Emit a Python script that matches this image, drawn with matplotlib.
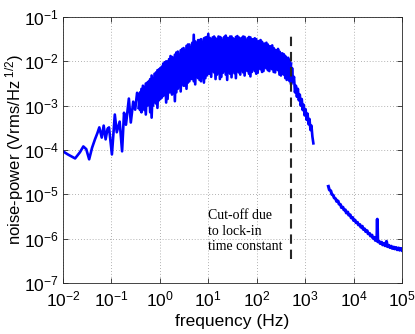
import numpy as np
import matplotlib
matplotlib.use("Agg")
import matplotlib.pyplot as plt

plt.rcParams['font.family'] = ['Liberation Sans', 'DejaVu Sans']
plt.rcParams['mathtext.fontset'] = 'custom'
plt.rcParams['mathtext.rm'] = 'Liberation Sans'
plt.rcParams['mathtext.it'] = 'Liberation Sans:italic'
plt.rcParams['mathtext.default'] = 'regular'

# ---- data (log10 frequency, log10 noise-power) ----
low_lf = [-2.00, -1.90, -1.75, -1.65, -1.58, -1.52, -1.46, -1.40, -1.34, -1.29,
          -1.25, -1.20, -1.16, -1.12, -1.08, -1.05, -0.99, -0.93, -0.89, -0.83,
          -0.78, -0.74, -0.70, -0.64, -0.60, -0.55, -0.51, -0.47]
low_lv = [-4.03, -4.10, -4.19, -4.05, -3.92, -3.98, -4.21, -3.95, -3.76, -3.62,
          -3.49, -3.72, -3.45, -3.76, -3.52, -3.49, -4.10, -3.20, -3.60, -3.36,
          -4.03, -3.16, -3.43, -2.84, -3.38, -2.91, -3.09, -2.71]

band_lf = [-0.44, -0.41, -0.38, -0.35, -0.32, -0.29, -0.26, -0.23, -0.20, -0.17,
           -0.14, -0.11, -0.08, -0.05, -0.02, 0.01, 0.04, 0.07, 0.10, 0.13,
           0.16, 0.19, 0.22, 0.25, 0.28, 0.31, 0.34, 0.37, 0.40, 0.43,
           0.46, 0.49, 0.52, 0.55, 0.58, 0.61, 0.64, 0.67, 0.70, 0.73,
           0.76, 0.79, 0.82, 0.85, 0.88, 0.91, 0.94, 0.97, 1.00, 1.03,
           1.06, 1.09, 1.12, 1.15, 1.18, 1.21, 1.24, 1.27, 1.30, 1.33,
           1.36, 1.39, 1.42, 1.45, 1.48, 1.51, 1.54, 1.57, 1.60, 1.63,
           1.66, 1.69, 1.72, 1.75, 1.78, 1.81, 1.84, 1.87, 1.90, 1.93,
           1.96, 1.99, 2.02, 2.05, 2.08, 2.11, 2.14, 2.17, 2.20, 2.23,
           2.26, 2.29, 2.32, 2.35, 2.38, 2.41, 2.44, 2.47, 2.50, 2.53,
           2.56, 2.59, 2.62, 2.65, 2.68, 2.71]
band_lv = [-2.80, -3.10, -2.62, -3.02, -2.58, -3.20, -2.48, -2.95, -2.40, -3.27,
           -2.38, -2.92, -2.25, -3.05, -2.18, -2.85, -2.12, -2.78, -2.02, -2.93,
           -2.00, -2.70, -1.88, -2.75, -1.92, -2.90, -1.80, -2.62, -1.85, -2.68,
           -1.72, -2.55, -1.75, -2.62, -1.62, -2.45, -1.68, -2.40, -1.40, -2.52,
           -1.58, -2.38, -1.52, -2.45, -1.56, -2.48, -1.46, -2.32, -1.38, -2.28,
           -1.50, -2.22, -1.44, -2.40, -1.50, -2.25, -1.45, -2.35, -1.52, -2.22,
           -1.42, -2.42, -1.48, -2.28, -1.44, -2.22, -1.50, -2.38, -1.43, -2.25,
           -1.49, -2.20, -1.44, -2.32, -1.52, -2.22, -1.45, -2.34, -1.50, -2.18,
           -1.48, -2.28, -1.55, -2.16, -1.52, -2.24, -1.60, -2.14, -1.58, -2.20,
           -1.66, -2.16, -1.64, -2.24, -1.74, -2.18, -1.72, -2.30, -1.82, -2.28,
           -1.84, -2.38, -1.92, -2.40, -1.96, -2.52]
# second pass of the same noisy band (opposite phase of the fluctuation)
band2_lv = [-3.05, -2.70, -3.15, -2.55, -3.10, -2.50, -3.00, -2.45, -3.15, -2.32,
            -3.00, -2.28, -2.95, -2.20, -2.88, -2.15, -2.82, -2.05, -2.75, -2.00,
            -2.85, -1.95, -2.70, -1.90, -2.62, -1.85, -2.70, -1.78, -2.58, -1.75,
            -2.50, -1.70, -2.55, -1.65, -2.48, -1.62, -2.40, -1.58, -2.45, -1.55,
            -2.35, -1.52, -2.42, -1.50, -2.30, -1.48, -2.38, -1.45, -2.28, -1.47,
            -2.35, -1.46, -2.25, -1.48, -2.30, -1.44, -2.40, -1.47, -2.26, -1.45,
            -2.30, -1.47, -2.24, -1.44, -2.36, -1.48, -2.27, -1.45, -2.22, -1.46,
            -2.30, -1.47, -2.25, -1.45, -2.20, -1.48, -2.28, -1.46, -2.24, -1.50,
            -2.22, -1.50, -2.26, -1.54, -2.18, -1.56, -2.22, -1.60, -2.16, -1.62,
            -2.22, -1.66, -2.18, -1.70, -2.25, -1.75, -2.20, -1.78, -2.32, -1.82,
            -2.30, -1.88, -2.42, -1.92, -2.45, -2.05]

roll_lf = [2.73, 2.75, 2.77, 2.79, 2.81, 2.83, 2.85, 2.87, 2.89, 2.91,
           2.93, 2.95, 2.97, 2.99, 3.01, 3.03, 3.05, 3.07, 3.09, 3.11,
           3.13, 3.15, 3.17]
roll_lv = [-2.15, -2.45, -2.35, -2.70, -2.55, -2.80, -2.62, -2.88, -2.75, -3.00,
           -2.85, -3.10, -2.98, -3.22, -3.08, -3.32, -3.18, -3.42, -3.30, -3.55,
           -3.45, -3.70, -3.85]

high_lf = [3.48, 3.50, 3.53, 3.55, 3.58, 3.60, 3.63, 3.65, 3.68, 3.70,
           3.73, 3.75, 3.78, 3.80, 3.83, 3.85, 3.88, 3.90, 3.93, 3.95,
           3.98, 4.00, 4.03, 4.05, 4.08, 4.10, 4.13, 4.15, 4.18, 4.20,
           4.23, 4.25, 4.28, 4.30, 4.33, 4.35, 4.38, 4.40, 4.43, 4.45,
           4.48, 4.49, 4.50, 4.53, 4.55, 4.58, 4.60, 4.63, 4.65, 4.68,
           4.70, 4.73, 4.75, 4.78, 4.80, 4.83, 4.85, 4.88, 4.90, 4.93,
           4.95, 4.98, 5.00]
high_lv = [-4.82, -4.90, -4.92, -5.00, -5.02, -5.08, -5.10, -5.16, -5.15, -5.22,
           -5.23, -5.30, -5.29, -5.35, -5.35, -5.42, -5.40, -5.47, -5.46, -5.53,
           -5.52, -5.59, -5.58, -5.64, -5.63, -5.69, -5.68, -5.74, -5.72, -5.79,
           -5.78, -5.84, -5.82, -5.89, -5.88, -5.94, -5.92, -5.99, -5.97, -6.04,
           -6.02, -5.56, -6.07, -6.06, -6.11, -6.08, -6.14, -6.11, -6.16, -6.06,
           -6.18, -6.15, -6.20, -6.17, -6.22, -6.19, -6.23, -6.20, -6.25, -6.21,
           -6.26, -6.22, -6.26]

cutoff_freq = 500.0
cutoff_range = [3.5e-7, 0.044]
note_text = "Cut-off due\nto lock-in\ntime constant"

xticks = [1e-2, 1e-1, 1e0, 1e1, 1e2, 1e3, 1e4, 1e5]
xticklabels = [r'$10^{-2}$', r'$10^{-1}$', r'$10^{0}$', r'$10^{1}$',
               r'$10^{2}$', r'$10^{3}$', r'$10^{4}$', r'$10^{5}$']
yticks = [1e-7, 1e-6, 1e-5, 1e-4, 1e-3, 1e-2, 1e-1]
yticklabels = [r'$10^{-7}$', r'$10^{-6}$', r'$10^{-5}$', r'$10^{-4}$',
               r'$10^{-3}$', r'$10^{-2}$', r'$10^{-1}$']

# ---- figure ----
fig = plt.figure(figsize=(4.15, 3.34), dpi=100)
ax = fig.add_axes([63/415, 1-283/334, 339/415, 266/334])

blue = (0.0, 0.0, 1.0)
main_lf = low_lf + band_lf + roll_lf
main_lv = low_lv + band_lv + roll_lv
ax.plot(10**np.array(main_lf), 10**np.array(main_lv), color=blue, lw=1.9,
        solid_joinstyle='round')
ax.plot(10**np.array(band_lf), 10**np.array(band2_lv), color=blue, lw=1.9,
        solid_joinstyle='round')
ax.plot(10**np.array(high_lf), 10**np.array(high_lv), color=blue, lw=2.2,
        solid_joinstyle='round')

ax.plot([cutoff_freq, cutoff_freq], cutoff_range, color=(0.15, 0.15, 0.15),
        lw=1.5, dashes=(4.5, 2.8))

ax.set_xscale('log')
ax.set_yscale('log')
ax.set_xlim(1e-2, 1e5)
ax.set_ylim(1e-7, 1e-1)
ax.set_xticks(xticks)
ax.set_xticklabels(xticklabels)
ax.set_yticks(yticks)
ax.set_yticklabels(yticklabels)
ax.minorticks_off()
ax.tick_params(which='both', direction='in', length=3.5, width=0.6,
               top=True, right=True, labelsize=12.5, colors=(0.15, 0.15, 0.15))
ax.tick_params(axis='x', pad=5)
ax.tick_params(axis='y', pad=3)
for lab in ax.get_xticklabels() + ax.get_yticklabels():
    lab.set_color('black')
for s in ax.spines.values():
    s.set_color((0.15, 0.15, 0.15))
    s.set_linewidth(0.6)
ax.grid(True, which='major', color=(0.6, 0.6, 0.6), linestyle=(0, (1, 2.5)),
        linewidth=0.6)

ax.set_xlabel('frequency (Hz)', fontsize=12.5)
ax.xaxis.set_label_coords(0.5, -0.115)
ax.set_ylabel(r'noise-power (Vrms/Hz$^{\ 1/2}$)', fontsize=12)
ax.yaxis.set_label_coords(-0.108, 0.5)

ax.text(0.428, 0.278, note_text, transform=ax.transAxes, ha='left', va='top',
        family=['Liberation Serif', 'DejaVu Serif'], fontsize=10,
        linespacing=1.25)

fig.savefig('out.png', dpi=100)
